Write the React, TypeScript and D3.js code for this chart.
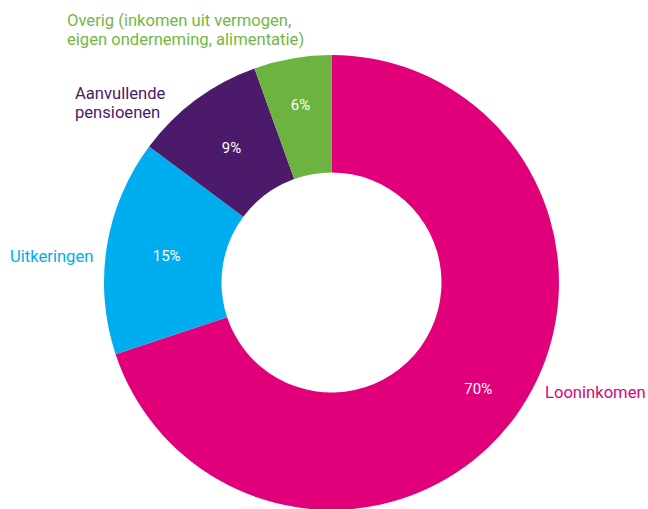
import React from 'react';
import * as d3 from 'd3';

// Share of income by source (percent), clockwise from 12 o'clock
const categories = ['Looninkomen', 'Uitkeringen', 'Aanvullende pensioenen', 'Overig'];
const shares = [69.9, 15.3, 9.3, 5.5];
const colors = ['#e2007a', '#00adee', '#4b1a6b', '#6cb33f'];
const textColors = ['#e2007a', '#00adee', '#4b1a6b', '#72b844'];
const labelLines = [
  ['Looninkomen'],
  ['Uitkeringen'],
  ['Aanvullende', 'pensioenen'],
  ['Overig (inkomen uit vermogen,', 'eigen onderneming, alimentatie)'],
];

const width = 648;
const height = 509;
const cx = 331.5;
const cy = 282.5;
const outerR = 227.5;
const innerR = 110;
const font = 'Roboto, "Open Sans", sans-serif';

// Where each category caption sits (anchored left) and how far out its % label goes
const labelPos = [
  {x: 545, y: 398},
  {x: 10, y: 262},
  {x: 75, y: 99},
  {x: 67, y: 26},
];
const pctRadius = [181, 167, 168, 180];

type Slice = {name: string; value: number; i: number};

export default function App() {
  const data: Slice[] = categories.map((c, i) => ({name: c, value: shares[i], i}));
  const pie = d3
    .pie<Slice>()
    .sort(null)
    .value((d) => d.value);
  const arcs = pie(data);
  const arc = d3.arc<d3.PieArcDatum<Slice>>().innerRadius(innerR).outerRadius(outerR);

  return (
    <svg
      width={width}
      height={height}
      style={{position: 'absolute', left: 0, top: 0, background: '#fff'}}
    >
      <g transform={`translate(${cx},${cy})`}>
        {arcs.map((a) => (
          <path key={a.data.name} d={arc(a) || ''} fill={colors[a.data.i]} />
        ))}
        {arcs.map((a) => {
          const r = pctRadius[a.data.i];
          const [x, y] = d3
            .arc<d3.PieArcDatum<Slice>>()
            .innerRadius(r)
            .outerRadius(r)
            .centroid(a);
          return (
            <text
              key={'p' + a.data.name}
              x={x}
              y={y}
              dy="0.35em"
              textAnchor="middle"
              fill="#fff"
              fontFamily={font}
              fontSize={15}
            >
              {Math.round(a.data.value)}%
            </text>
          );
        })}
      </g>
      {labelLines.map((lines, i) =>
        lines.map((t, j) => (
          <text
            key={'l' + i + '-' + j}
            x={labelPos[i].x}
            y={labelPos[i].y + j * 19}
            fill={textColors[i]}
            fontFamily={font}
            fontSize={16.6}
          >
            {t}
          </text>
        )),
      )}
    </svg>
  );
}
